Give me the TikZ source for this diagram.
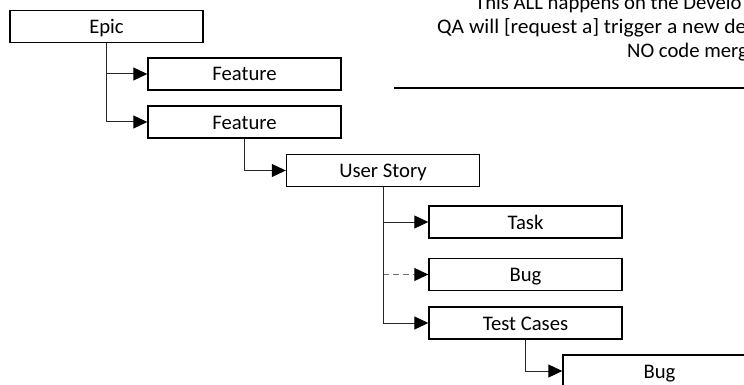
\documentclass[tikz,border=0pt]{standalone}
\usepackage{fontspec}
\usepackage{graphicx}
\setmainfont{Carlito}
\usetikzlibrary{arrows.meta}
\begin{document}
\begin{tikzpicture}[x=1pt,y=-1pt,
  box/.style={draw=black, line width=1.4pt, minimum width=193pt, minimum height=32pt, inner sep=0pt, text height=14pt, text depth=0pt, font=\fontsize{20.7}{24}\selectfont},
  conn/.style={draw=black!85, line width=1pt, -{Triangle[length=14pt,width=13pt,color=black]}},
  dconn/.style={conn, draw=black!55, dash pattern=on 6pt off 4pt},
  note/.style={anchor=base west, inner sep=0pt, font=\fontsize{20.7}{24}\selectfont}]
\useasboundingbox (0,0) rectangle (744,385);
\clip (0,0) rectangle (744,385);
\node[box] (epic) at (106.5,26.3) {Epic};
\node[box] (f1) at (244.5,74) {Feature};
\node[box] (f2) at (244.5,122) {Feature};
\node[box] (us) at (383,170.5) {User Story};
\node[box] (task) at (525.5,222) {Task};
\node[box] (bug1) at (525.5,274.5) {Bug};
\node[box] (tc) at (525.5,323) {Test Cases};
\node[box] (bug2) at (659.5,371) {Bug};
\draw[conn] (epic.south) |- (f1.west);
\draw[conn] (epic.south) |- (f2.west);
\draw[conn] (f2.south) |- (us.west);
\draw[conn] (us.south) |- (task.west);
\draw[draw=black!85, line width=1pt] (us.south) -- (us.south |- bug1.west);
\draw[dconn] (us.south |- bug1.west) -- (bug1.west);
\draw[conn] (us.south) |- (tc.west);
\draw[conn] (tc.south) |- (bug2.west);
\node[note] (t1) at (475,10) {This ALL happens on the Develo};
\node[note] (t2) at (437,34) {\scalebox{1.04}[1]{QA will [request a] trigger a new de}};
\node[note] (t3) at (627,58) {NO code merg};
\coordinate (la) at (394,88);
\coordinate (lb) at (744,88);
\draw[line width=1.6pt] (la) -- (lb);
\end{tikzpicture}
\end{document}
